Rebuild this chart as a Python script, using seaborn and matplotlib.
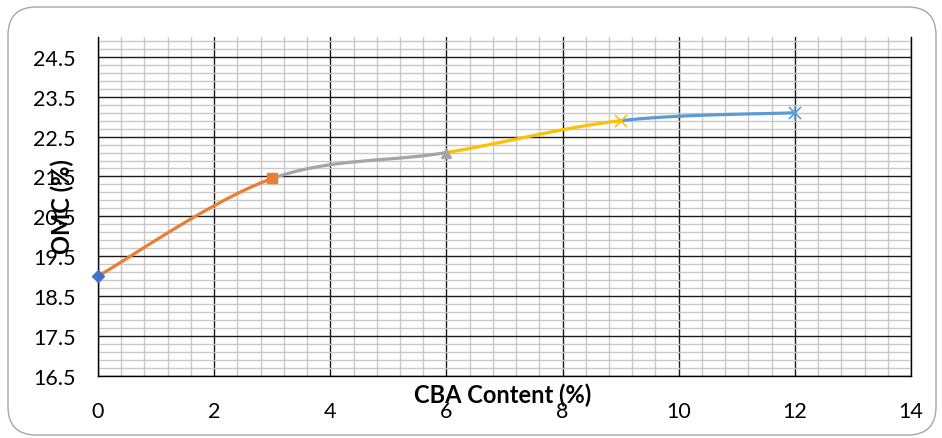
import numpy as np
import pandas as pd
import matplotlib
matplotlib.use("Agg")
import matplotlib.pyplot as plt
import seaborn as sns
from matplotlib.patches import FancyBboxPatch
from matplotlib.ticker import MultipleLocator, FixedLocator

# Data
cba_content = [0, 3, 6, 9, 12]
omc = [19.0, 21.45, 22.1, 22.9, 23.1]
segment_colors = ["#ED7D31", "#A5A5A5", "#FFC000", "#5B9BD5"]
point_colors = ["#4472C4", "#ED7D31", "#A5A5A5", "#FFC000", "#5B9BD5"]
point_markers = ["D", "s", "^", "x", "*"]
x_ticks = [0, 2, 4, 6, 8, 10, 12, 14]
y_ticks = [16.5, 17.5, 18.5, 19.5, 20.5, 21.5, 22.5, 23.5, 24.5]


def smooth_segments(xs, ys, n=40):
    """Cardinal (Catmull-Rom style) Bezier smoothing, one piece per interval."""
    pts = np.column_stack([xs, ys]).astype(float)
    ext = np.vstack([pts[0], pts, pts[-1]])
    rows = []
    for i in range(len(pts) - 1):
        p0, p1, p2, p3 = ext[i], ext[i + 1], ext[i + 2], ext[i + 3]
        b1 = p1 + (p2 - p0) / 6.0
        b2 = p2 - (p3 - p1) / 6.0
        t = np.linspace(0, 1, n)[:, None]
        curve = ((1 - t) ** 3) * p1 + 3 * ((1 - t) ** 2) * t * b1 \
            + 3 * (1 - t) * t ** 2 * b2 + t ** 3 * p2
        for j, (cx, cy) in enumerate(curve):
            rows.append({"seg": i, "order": j, "x": cx, "y": cy})
    return pd.DataFrame(rows)


curve_df = smooth_segments(cba_content, omc)

sns.set_theme(style="white")
plt.rcParams["font.family"] = ["Lato", "DejaVu Sans"]

fig = plt.figure(figsize=(9.42, 4.39), dpi=100)
ax = fig.add_axes([98 / 942, 1 - 376.7 / 439, (911 - 98) / 942, (376.7 - 38) / 439])

# rounded chart-area border
fig.patches.append(FancyBboxPatch((8 / 942, 3 / 439), 928 / 942, 428 / 439,
                                  boxstyle="round,pad=0,rounding_size=0.03",
                                  transform=fig.transFigure, facecolor="none",
                                  edgecolor="#A6A6A6", linewidth=1.0,
                                  mutation_aspect=942 / 439))

ax.set_xlim(0, 14)
ax.set_ylim(16.5, 25.0)
ax.xaxis.set_major_locator(FixedLocator(x_ticks))
ax.xaxis.set_minor_locator(MultipleLocator(0.4))
ax.yaxis.set_major_locator(FixedLocator(y_ticks))
ax.yaxis.set_minor_locator(FixedLocator(np.arange(16.7, 25.01, 0.2)))

ax.grid(which="minor", color="#C8C8C8", linewidth=1.0)
ax.grid(which="major", color="#1A1A1A", linewidth=1.0)
ax.set_axisbelow(True)

sns.lineplot(data=curve_df, x="x", y="y", hue="seg", palette=segment_colors,
             sort=False, estimator=None, units="seg", linewidth=2.3,
             legend=False, ax=ax, zorder=3)

for xv, yv, c, m in zip(cba_content, omc, point_colors, point_markers):
    if m == "*":
        ax.plot([xv], [yv], marker="x", markersize=9, color=c, mew=1.2, zorder=5, clip_on=False)
        ax.plot([xv], [yv], marker="|", markersize=10, color=c, mew=1.2, zorder=5, clip_on=False)
    elif m == "x":
        ax.plot([xv], [yv], marker="x", markersize=9, color=c, mew=1.2, zorder=5, clip_on=False)
    elif m == "D":
        ax.plot([xv], [yv], marker="D", markersize=6.5, color=c, mec=c, zorder=5, clip_on=False)
    else:
        ax.plot([xv], [yv], marker=m, markersize=6.5, color=c, mec=c, zorder=5, clip_on=False)

for side in ["left", "bottom", "right"]:
    ax.spines[side].set_visible(True)
    ax.spines[side].set_color("black")
    ax.spines[side].set_linewidth(1.0)
ax.spines["top"].set_visible(False)

ax.tick_params(axis="both", which="major", direction="inout", length=8, width=1,
               color="black", labelsize=15.5, labelcolor="black")
ax.tick_params(axis="both", which="minor", direction="inout", length=5, width=1, color="black")
ax.tick_params(axis="x", which="major", pad=14)
ax.tick_params(axis="y", which="major", pad=12)
ax.tick_params(axis="both", which="both", top=False, right=False)
ax.set_xticklabels([str(v) for v in x_ticks])
ax.set_yticklabels([f"{v:.1f}" for v in y_ticks])

ax.set_xlabel("")
ax.set_ylabel("")
fig.text(503 / 942, 1 - 395 / 439, "CBA Content (%)", ha="center", va="center",
         fontsize=17, fontweight="bold", color="black")
fig.text(62 / 942, 1 - 207 / 439, "OMC (%)", ha="center", va="center",
         rotation=90, fontsize=17, fontweight="bold", color="black")

fig.savefig("out.png", dpi=100)
